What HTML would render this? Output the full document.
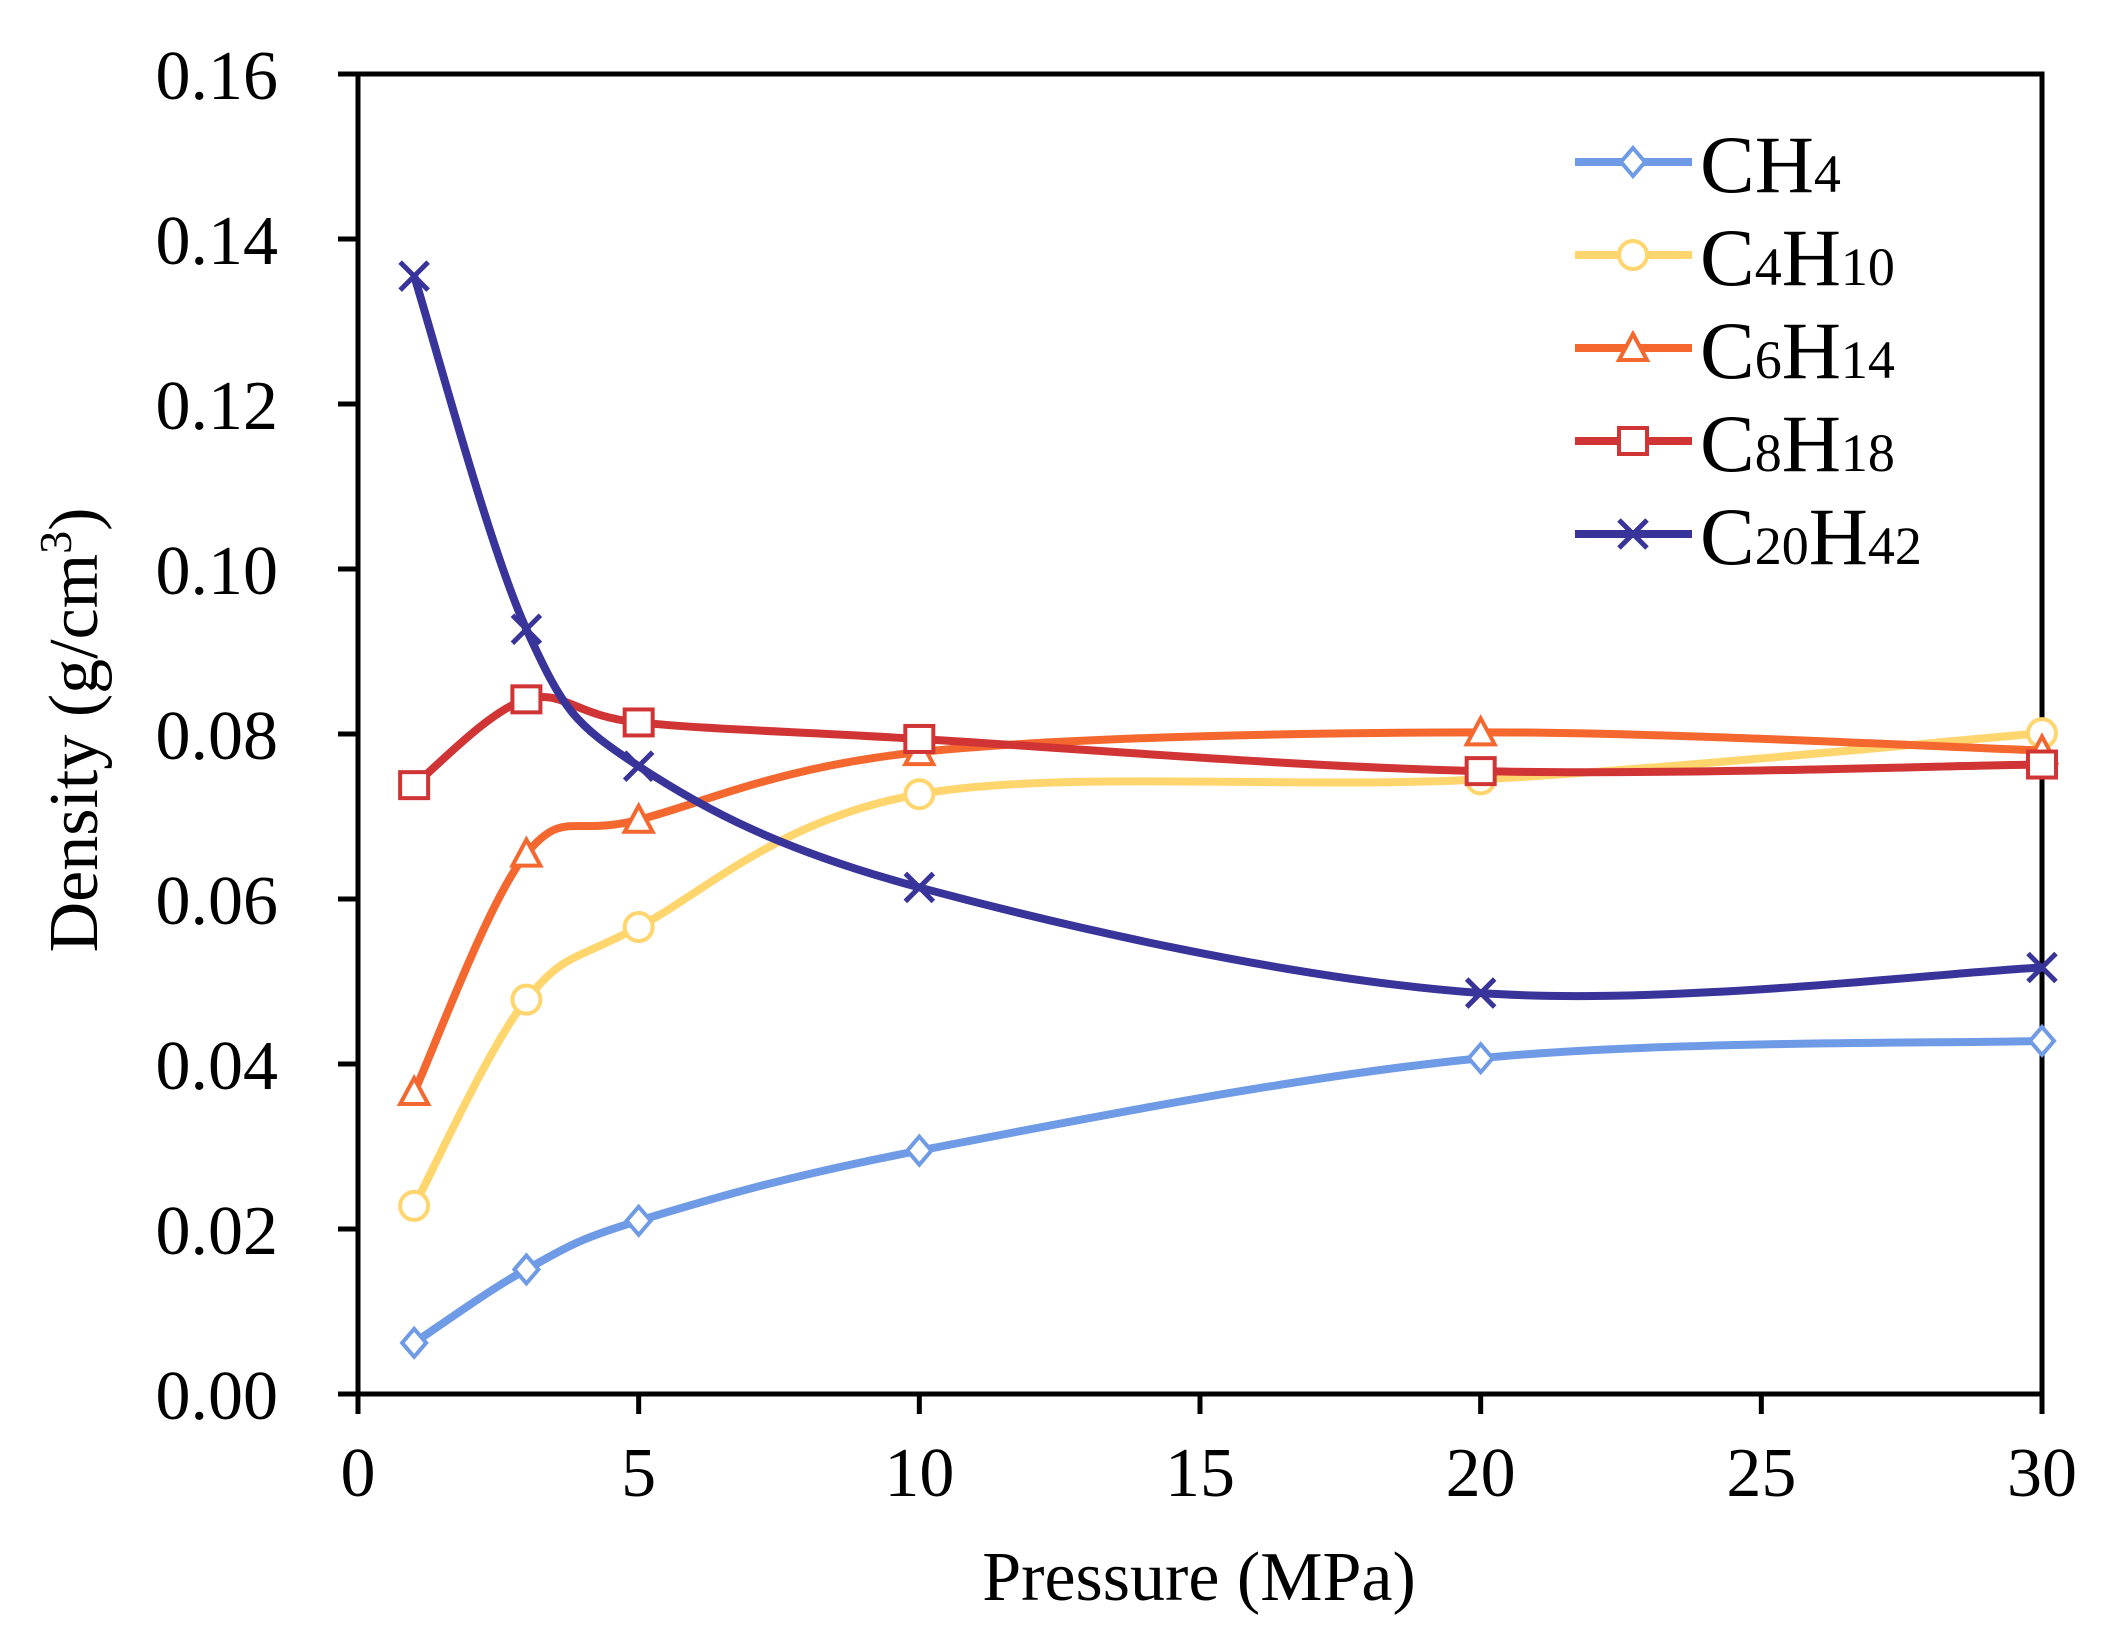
<!DOCTYPE html>
<html><head><meta charset="utf-8"><style>
html,body{margin:0;padding:0;background:#fff;}
svg{display:block;font-family:"Liberation Serif",serif;}
</style></head><body>
<svg id="chart" width="2120" height="1640" viewBox="0 0 2120 1640" xmlns="http://www.w3.org/2000/svg"></svg>
<script>
const pressures = [1, 3, 5, 10, 20, 30];
const ch4 = [0.0062, 0.0151, 0.0210, 0.0295, 0.0407, 0.0428];
const c4h10 = [0.0228, 0.0478, 0.0566, 0.0727, 0.0745, 0.0801];
const c6h14 = [0.0366, 0.0655, 0.0696, 0.0778, 0.0802, 0.0780];
const c8h18 = [0.0738, 0.0842, 0.0814, 0.0794, 0.0755, 0.0763];
const c20h42 = [0.1355, 0.0927, 0.0761, 0.0614, 0.0486, 0.0517];
const xTicks = [0, 5, 10, 15, 20, 25, 30];
const yTicks = [0, 0.02, 0.04, 0.06, 0.08, 0.10, 0.12, 0.14, 0.16];
const yTickLabels = ["0.00","0.02","0.04","0.06","0.08","0.10","0.12","0.14","0.16"];

const L=358, R=2042, T=74, B=1394;
const X = v => L + (v-0)/(30-0)*(R-L);
const Y = v => B - (v-0)/(0.16-0)*(B-T);
const svg = document.getElementById('chart');
const NS = 'http://www.w3.org/2000/svg';
function mk(tag, attrs, parent){const e=document.createElementNS(NS,tag);for(const k in attrs)e.setAttribute(k,attrs[k]);(parent||svg).appendChild(e);return e;}

const box = mk('rect',{x:L,y:T,width:R-L,height:B-T,fill:'none',stroke:'#000','stroke-width':5});



yTicks.forEach((v,i)=>{
  const t=mk('line',{x1:L-20,x2:L,y1:Y(v),y2:Y(v),stroke:'#000','stroke-width':5});
  
  
  const tx=mk('text',{x:L-80,y:Y(v)+25,'text-anchor':'end','font-size':70,fill:'#000'});
  tx.textContent=yTickLabels[i];
  
  
});
xTicks.forEach(v=>{
  const t=mk('line',{x1:X(v),x2:X(v),y1:B,y2:B+20,stroke:'#000','stroke-width':5});
  
  
  const tx=mk('text',{x:X(v),y:B+102,'text-anchor':'middle','font-size':70,fill:'#000'});
  tx.textContent=String(v);
  
  
});

const xt=mk('text',{x:1199,y:1600,'text-anchor':'middle','font-size':70,fill:'#000'});
xt.textContent='Pressure (MPa)';


const yt=mk('text',{x:0,y:0,'text-anchor':'middle','font-size':70,fill:'#000',transform:'translate(97,730) rotate(-90)'});
yt.innerHTML='Density (g/cm<tspan dy="-26" font-size="46">3</tspan><tspan dy="26">)</tspan>';



function pathFor(vals){
  const p=pressures.map((x,i)=>[X(x),Y(vals[i])]);
  let d=`M${p[0][0]},${p[0][1]}`;
  for(let i=0;i<p.length-1;i++){
    const p0=p[i-1]||p[i], p1=p[i], p2=p[i+1], p3=p[i+2]||p[i+1];
    const c1=[p1[0]+(p2[0]-p0[0])/6, p1[1]+(p2[1]-p0[1])/6];
    const c2=[p2[0]-(p3[0]-p1[0])/6, p2[1]-(p3[1]-p1[1])/6];
    d+=` C${c1[0]},${c1[1]} ${c2[0]},${c2[1]} ${p2[0]},${p2[1]}`;
  }
  return d;
}
function marker(kind,cx,cy,color,g){
  const s=14, a={fill:'#fff',stroke:color,'stroke-width':4};
  let m;
  if(kind==='diamond') m=mk('polygon',Object.assign({points:`${cx},${cy-s} ${cx+s-2},${cy} ${cx},${cy+s} ${cx-s+2},${cy}`},a),g);
  else if(kind==='circle') m=mk('circle',Object.assign({cx,cy,r:s},a),g);
  else if(kind==='triangle') m=mk('polygon',Object.assign({points:`${cx},${cy-s} ${cx+s},${cy+s-2} ${cx-s},${cy+s-2}`},a),g);
  else if(kind==='square') m=mk('rect',Object.assign({x:cx-s,y:cy-s+1,width:2*s,height:2*s-2},a),g);
  else m=mk('path',{d:`M${cx-s},${cy-s}L${cx+s},${cy+s}M${cx+s},${cy-s}L${cx-s},${cy+s}`,stroke:color,'stroke-width':5,fill:'none'},g);
  return m;
}
const series=[
 {name:'ch4',vals:ch4,color:'#6f9be6',kind:'diamond',label:['CH','4','']},
 {name:'c4h10',vals:c4h10,color:'#ffd56e',kind:'circle',label:['C','4','H','10']},
 {name:'c6h14',vals:c6h14,color:'#f4672f',kind:'triangle',label:['C','6','H','14']},
 {name:'c8h18',vals:c8h18,color:'#d03434',kind:'square',label:['C','8','H','18']},
 {name:'c20h42',vals:c20h42,color:'#38349a',kind:'x',label:['C','20','H','42']}
];
series.forEach((s,si)=>{
  const g=mk('g',{});
  
  
  const line=mk('path',{d:pathFor(s.vals),fill:'none',stroke:s.color,'stroke-width':8,'stroke-linejoin':'round'},g);
  
  
  pressures.forEach((x,i)=>{
    const m=marker(s.kind,X(x),Y(s.vals[i]),s.color,g);
    
    
  });
  const ly=162+si*93;
  const lg=mk('g',{});
  
  
  mk('line',{x1:1575,x2:1692,y1:ly,y2:ly,stroke:s.color,'stroke-width':8},lg);
  marker(s.kind,1633,ly,s.color,lg);
  const t=mk('text',{x:1700,y:ly+30,'font-size':82,fill:'#000'},lg);
  const lab=s.label;
  let html=`${lab[0]}<tspan font-size="54">${lab[1]}</tspan>`;
  if(lab[2]) html+=`${lab[2]}<tspan font-size="54">${lab[3]}</tspan>`;
  t.innerHTML=html;
});
</script>
</body></html>
